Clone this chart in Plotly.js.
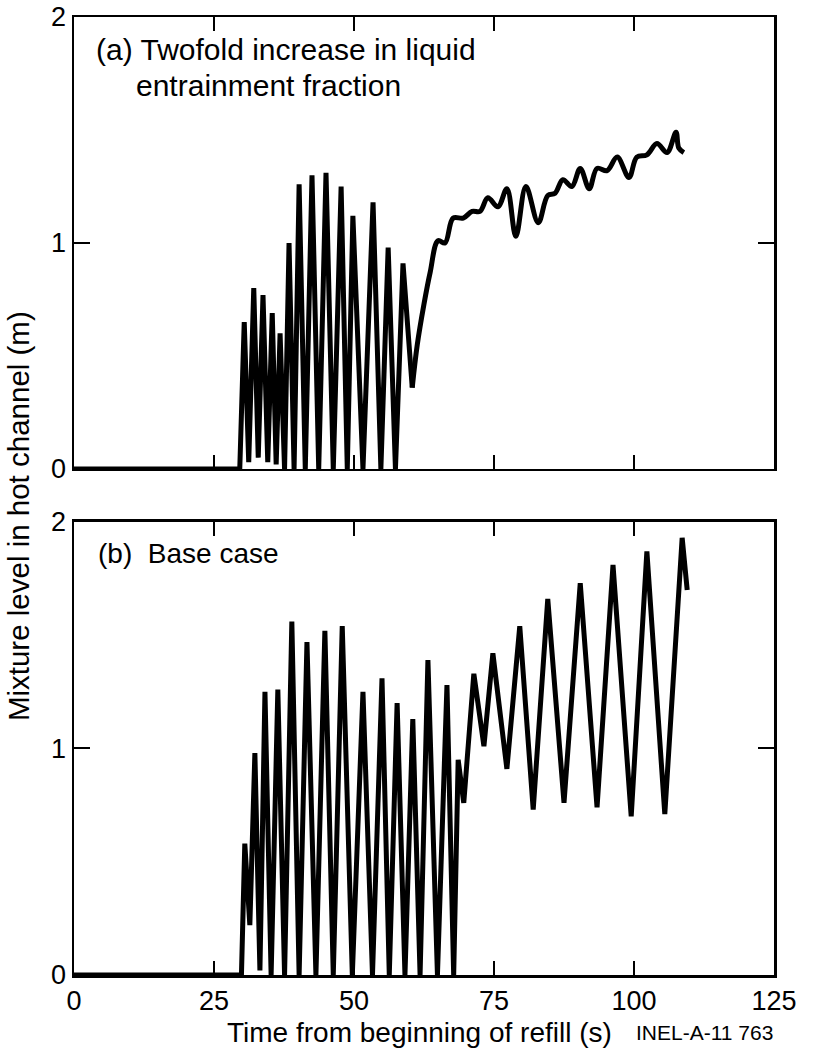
<!DOCTYPE html>
<html>
<head>
<meta charset="utf-8">
<script src="https://cdn.plot.ly/plotly-3.0.1.min.js"></script>
<style>html,body{margin:0;padding:0;background:#fff;}#chart{width:813px;height:1059px;}</style>
</head>
<body>
<div id="chart"></div>
<script>
// Panel (a): twofold increase in liquid entrainment fraction
const timeA_osc = [0, 29.6, 30.4, 31.2, 32.1, 32.9, 33.75, 34.6, 35.4, 36.1, 36.8, 37.6, 38.4, 39.3, 40.2, 41.3, 42.5, 43.7, 45.0, 46.3, 47.7, 48.8, 49.8, 51.6, 53.4, 54.8, 56.1, 57.4, 58.75, 60.4];
const levelA_osc = [0, 0, 0.65, 0.03, 0.80, 0.05, 0.77, 0.03, 0.69, 0.02, 0.60, 0, 1.00, 0, 1.26, 0, 1.30, 0, 1.31, 0, 1.25, 0, 1.12, 0, 1.18, 0, 0.98, 0, 0.91, 0.36];
const timeA_rec = [60.4, 61.3, 62.5, 63.6, 65.0, 66.25, 67.7, 69.5, 71.1, 72.5, 73.9, 75.7, 77.3, 78.9, 80.7, 82.9, 84.6, 85.9, 87.3, 88.9, 90.4, 92.0, 93.4, 95.2, 97.0, 99.1, 100.5, 102.3, 104.1, 105.9, 107.5, 108.0, 108.9];
const levelA_rec = [0.36, 0.55, 0.73, 0.87, 1.01, 1.00, 1.11, 1.11, 1.14, 1.14, 1.20, 1.16, 1.24, 1.03, 1.25, 1.09, 1.21, 1.22, 1.28, 1.25, 1.33, 1.24, 1.33, 1.32, 1.38, 1.29, 1.38, 1.39, 1.44, 1.40, 1.49, 1.42, 1.40];

// Panel (b): base case
const timeB = [0, 29.9, 30.5, 31.4, 32.3, 33.2, 34.1, 35.2, 36.4, 37.6, 38.9, 40.2, 41.6, 43.2, 44.8, 46.3, 47.9, 49.7, 51.6, 53.3, 55.0, 56.3, 57.7, 59.1, 60.5, 61.8, 63.2, 64.9, 66.6, 67.8, 68.6, 69.6, 71.4, 73.2, 74.8, 77.3, 79.6, 82.0, 84.6, 87.5, 90.4, 93.4, 96.25, 99.5, 102.3, 105.5, 108.6, 109.5];
const levelB = [0, 0, 0.58, 0.22, 0.98, 0.02, 1.25, 0, 1.26, 0, 1.56, 0, 1.47, 0, 1.52, 0, 1.54, 0, 1.25, 0, 1.31, 0, 1.20, 0, 1.13, 0, 1.39, 0, 1.28, 0, 0.95, 0.76, 1.33, 1.01, 1.42, 0.91, 1.54, 0.73, 1.66, 0.76, 1.73, 0.74, 1.81, 0.70, 1.87, 0.71, 1.93, 1.70];

const xTicks = [0, 25, 50, 75, 100, 125];
const yTicks = [0, 1, 2];
const yTickText = ['0', '1', '2'];

const FONT = 'Liberation Sans, Arial, sans-serif';
const lineStyle = {color: '#000', width: 5};

const traces = [
  {x: timeA_osc, y: levelA_osc, xaxis: 'x2', yaxis: 'y2', mode: 'lines', line: Object.assign({shape: 'linear'}, lineStyle), hoverinfo: 'skip'},
  {x: timeA_rec, y: levelA_rec, xaxis: 'x2', yaxis: 'y2', mode: 'lines', line: Object.assign({shape: 'spline', smoothing: 1}, lineStyle), hoverinfo: 'skip'},
  {x: timeB, y: levelB, xaxis: 'x', yaxis: 'y', mode: 'lines', line: Object.assign({shape: 'linear'}, lineStyle), hoverinfo: 'skip'}
];

const axisCommon = {
  showline: true, linecolor: '#000', linewidth: 2.5, mirror: 'ticks',
  ticks: 'inside', tickcolor: '#000', tickwidth: 2, showgrid: false, zeroline: false,
  tickfont: {family: FONT, size: 27, color: '#000'}
};

const layout = {
  width: 813, height: 1059,
  margin: {l: 74, r: 39, t: 17, b: 84},
  paper_bgcolor: '#fff', plot_bgcolor: '#fff',
  showlegend: false,
  xaxis: Object.assign({}, axisCommon, {anchor: 'y', range: [0, 125], tickvals: xTicks, ticktext: xTicks.map(String), ticklen: 14}),
  xaxis2: Object.assign({}, axisCommon, {anchor: 'y2', matches: 'x', range: [0, 125], tickvals: xTicks, showticklabels: false, ticklen: 14}),
  yaxis: Object.assign({}, axisCommon, {domain: [0, 0.4729], range: [0, 2], tickvals: yTicks, ticktext: yTickText, ticklen: 16}),
  yaxis2: Object.assign({}, axisCommon, {domain: [0.5282, 1], range: [0, 2], tickvals: yTicks, ticktext: yTickText, ticklen: 16}),
  annotations: [
    {xref: 'paper', yref: 'paper', x: 0.028, y: 0.9656, xanchor: 'left', yanchor: 'middle', showarrow: false,
     text: '(a) Twofold increase in liquid', font: {family: FONT, size: 30, color: '#000'}},
    {xref: 'paper', yref: 'paper', x: 0.0857, y: 0.929, xanchor: 'left', yanchor: 'middle', showarrow: false,
     text: 'entrainment fraction', font: {family: FONT, size: 30, color: '#000'}},
    {xref: 'paper', yref: 'paper', x: 0.031, y: 0.4405, xanchor: 'left', yanchor: 'middle', showarrow: false,
     text: '(b)  Base case', font: {family: FONT, size: 28, color: '#000'}},
    {xref: 'paper', yref: 'paper', x: -0.08, y: 0.479, xanchor: 'center', yanchor: 'middle', showarrow: false, textangle: -90,
     text: 'Mixture level in hot channel (m)', font: {family: FONT, size: 29.5, color: '#000'}},
    {xref: 'paper', yref: 'paper', x: 0.494, y: -0.0605, xanchor: 'center', yanchor: 'middle', showarrow: false,
     text: 'Time from beginning of refill (s)', font: {family: FONT, size: 28, color: '#000'}},
    {xref: 'paper', yref: 'paper', x: 0.901, y: -0.0605, xanchor: 'center', yanchor: 'middle', showarrow: false,
     text: 'INEL-A-11 763', font: {family: FONT, size: 21, color: '#000'}}
  ]
};

Plotly.newPlot('chart', traces, layout, {staticPlot: true, displayModeBar: false});
</script>
</body>
</html>
